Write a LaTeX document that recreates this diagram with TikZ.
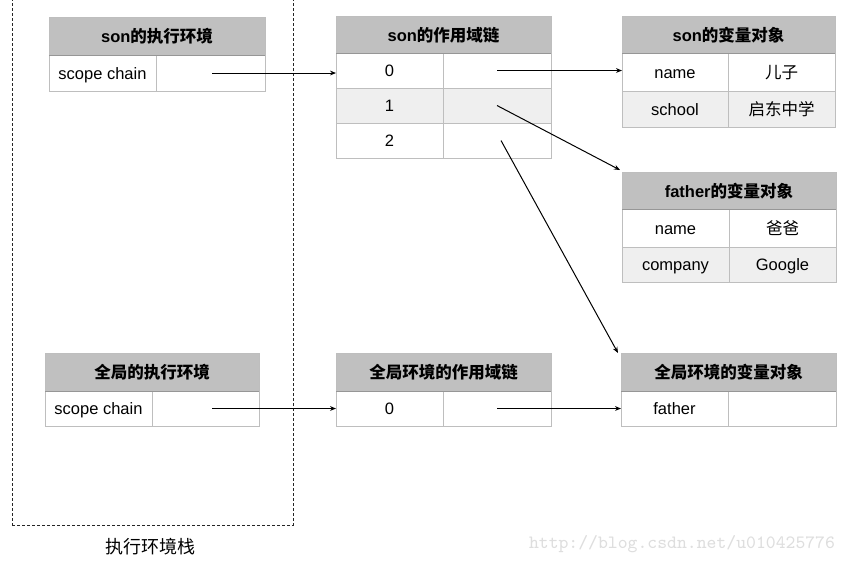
\documentclass[tikz,border=0pt]{standalone}
\usepackage{fontspec}
\setmainfont{Liberation Sans}
\newfontfamily\cjk{Noto Sans CJK SC}
\usetikzlibrary{arrows.meta}
\definecolor{hdrgrey}{RGB}{192,192,192}
\definecolor{bordgrey}{RGB}{190,190,190}
\definecolor{hdrline}{RGB}{150,150,150}
\definecolor{rowgrey}{RGB}{239,239,239}
\definecolor{wmgrey}{RGB}{222,222,222}
\newcommand\mkcell[7]{%
  \node[#6, minimum width={(#4-#2)*0.5pt}, minimum height={(#5-#3)*0.5pt}] (#1) at ({(#2+#4)/2},{(#3+#5)/2}) {#7};}
\newcommand\hdrrule[1]{\draw[hdrline, line width=0.5pt] (#1.south west) -- (#1.south east);}
\begin{document}
\begin{tikzpicture}[x=0.5pt,y=-0.5pt,
  basecell/.style={rectangle, draw=bordgrey, line width=0.5pt, inner sep=0pt, outer sep=0pt, text height=6.5pt, text depth=0.4pt, font=\fontsize{8.25}{10}\selectfont},
  hdr/.style={basecell, fill=hdrgrey, text height=7.3pt, font=\fontsize{8.25}{10}\selectfont\bfseries},
  cellw/.style={basecell, fill=white},
  cellg/.style={basecell, fill=rowgrey},
  link/.style={line width=0.5pt, -{Stealth[length=3pt,width=2.4pt]}},
  stackbox/.style={dash pattern=on 1.5pt off 1pt, line width=0.5pt, draw=black!85},
]
\useasboundingbox (0,0) rectangle (848,564);
\begin{scope}
\clip (0,0) rectangle (848,564);
\node[stackbox, rectangle, inner sep=0pt, minimum width={281*0.5pt}, minimum height={535*0.5pt}] (stack) at (152.5,257.5) {};
\end{scope}
\node (stacklabel) at (150,547) {\fontsize{9}{10}\selectfont\cjk 执行环境栈};
\node[text=wmgrey, font=\fontsize{9.4}{10}\ttfamily] (wm) at (682,544) {http://blog.csdn.net/u010425776};

% son execution context
\mkcell{seH}{49}{17}{265}{55}{hdr}{son{\cjk 的执行环境}}
\mkcell{seA}{49}{55}{156}{91}{cellw}{scope chain}
\mkcell{seB}{156}{55}{265}{91}{cellw}{}
\hdrrule{seH}

% son scope chain
\mkcell{scH}{336}{16}{551}{53}{hdr}{son{\cjk 的作用域链}}
\mkcell{sc0A}{336}{53}{443}{88}{cellw}{0}
\mkcell{sc0B}{443}{53}{551}{88}{cellw}{}
\mkcell{sc1A}{336}{88}{443}{123}{cellg}{1}
\mkcell{sc1B}{443}{88}{551}{123}{cellg}{}
\mkcell{sc2A}{336}{123}{443}{158}{cellw}{2}
\mkcell{sc2B}{443}{123}{551}{158}{cellw}{}
\hdrrule{scH}

% son variable object
\mkcell{svH}{622}{16}{835}{53}{hdr}{son{\cjk 的变量对象}}
\mkcell{sv0A}{622}{53}{728}{91}{cellw}{name}
\mkcell{sv0B}{728}{53}{835}{91}{cellw}{\cjk 儿子}
\mkcell{sv1A}{622}{91}{728}{127}{cellg}{school}
\mkcell{sv1B}{728}{91}{835}{127}{cellg}{\cjk 启东中学}
\hdrrule{svH}

% father variable object
\mkcell{fvH}{622}{172}{836}{209}{hdr}{father{\cjk 的变量对象}}
\mkcell{fv0A}{622}{209}{729}{247}{cellw}{name}
\mkcell{fv0B}{729}{209}{836}{247}{cellw}{\cjk 爸爸}
\mkcell{fv1A}{622}{247}{729}{282}{cellg}{company}
\mkcell{fv1B}{729}{247}{836}{282}{cellg}{Google}
\hdrrule{fvH}

% global execution context
\mkcell{geH}{45}{353}{259}{391}{hdr}{\cjk 全局的执行环境}
\mkcell{geA}{45}{391}{152}{426}{cellw}{scope chain}
\mkcell{geB}{152}{391}{259}{426}{cellw}{}
\hdrrule{geH}

% global scope chain
\mkcell{gcH}{336}{353}{551}{391}{hdr}{\cjk 全局环境的作用域链}
\mkcell{gc0A}{336}{391}{443}{426}{cellw}{0}
\mkcell{gc0B}{443}{391}{551}{426}{cellw}{}
\hdrrule{gcH}

% global variable object
\mkcell{gvH}{621}{353}{836}{391}{hdr}{\cjk 全局环境的变量对象}
\mkcell{gv0A}{621}{391}{728}{426}{cellw}{father}
\mkcell{gv0B}{728}{391}{836}{426}{cellw}{}
\hdrrule{gvH}

% connectors
\draw[link] ([xshift=0.75pt]seB.center) -- (seB.center -| sc0A.west);
\draw[link] (sc0B.center) -- (sc0B.center -| sv0A.west);
\draw[link] (sc1B.center) -- ([xshift=-1pt,yshift=1pt]fvH.north west);
\draw[link] ([xshift=2pt]sc2B.center) -- ([xshift=-1.5pt]gvH.north west);
\draw[link] ([xshift=3.25pt]geB.center) -- (geB.center -| gc0A.west);
\draw[link] (gc0B.center) -- (gc0B.center -| gv0A.west);
\end{tikzpicture}
\end{document}
